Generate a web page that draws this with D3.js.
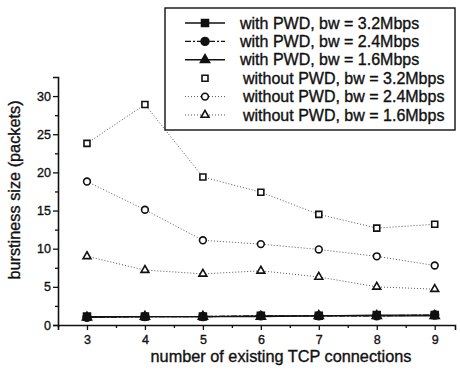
<!DOCTYPE html>
<html>
<head>
<meta charset="utf-8">
<script src="https://cdn.jsdelivr.net/npm/d3@7"></script>
<style>
  body { margin: 0; background: #fff; }
  text { font-family: Arial, "Liberation Sans", Helvetica, sans-serif; fill: #111; stroke: #111; stroke-width: 0.35; }
</style>
</head>
<body>
<div id="chart"></div>
<script>
const connections = [3, 4, 5, 6, 7, 8, 9];
const withPwd32 = [1.1, 1.1, 1.1, 1.2, 1.2, 1.3, 1.3];
const withPwd24 = [1.0, 1.1, 1.1, 1.2, 1.2, 1.2, 1.3];
const withPwd16 = [1.0, 1.1, 1.1, 1.1, 1.2, 1.2, 1.2];
const withoutPwd32 = [23.8, 28.9, 19.4, 17.4, 14.5, 12.7, 13.2];
const withoutPwd24 = [18.8, 15.1, 11.1, 10.6, 9.9, 9.0, 7.8];
const withoutPwd16 = [9.0, 7.2, 6.7, 7.1, 6.3, 5.0, 4.7];
const yTicks = [0, 5, 10, 15, 20, 25, 30];

const series = [
  { name: 'with PWD, bw = 3.2Mbps', values: withPwd32, symbol: d3.symbolSquare, fill: true, dash: null, legendLine: true },
  { name: 'with PWD, bw = 2.4Mbps', values: withPwd24, symbol: d3.symbolCircle, fill: true, dash: '6,2,2,2', legendLine: true },
  { name: 'with PWD, bw = 1.6Mbps', values: withPwd16, symbol: d3.symbolTriangle, fill: true, dash: null, legendLine: true },
  { name: 'without PWD, bw = 3.2Mbps', values: withoutPwd32, symbol: d3.symbolSquare, fill: false, dash: '1,2', legendLine: false },
  { name: 'without PWD, bw = 2.4Mbps', values: withoutPwd24, symbol: d3.symbolCircle, fill: false, dash: '1,2', legendLine: true },
  { name: 'without PWD, bw = 1.6Mbps', values: withoutPwd16, symbol: d3.symbolTriangle, fill: false, dash: '1,2', legendLine: true }
];

const width = 460;
const height = 370;

const svg = d3.select('#chart').append('svg')
  .attr('width', width)
  .attr('height', height);

const x = d3.scaleLinear().domain([2.5, 9.35]).range([58, 455]);
const y = d3.scaleLinear().domain([0, 32.5]).range([325, 77]);

// symbol sizes (area), triangles a bit smaller so they look like the others
const markSize = (s) => {
  const base = s.fill ? 48 : 36;
  return s.symbol === d3.symbolTriangle ? base * 0.75 : base;
};

// axes
const xAxis = d3.axisBottom(x).tickValues(connections).tickSize(5).tickFormat(d3.format('d'));
const xMinor = d3.axisBottom(x).tickValues(d3.range(2.5, 9.5, 1)).tickSize(3).tickFormat('');
const yAxis = d3.axisLeft(y).tickValues(yTicks).tickSize(5).tickPadding(2);
const yMinor = d3.axisLeft(y).tickValues(d3.range(2.5, 32.5, 5)).tickSize(3).tickFormat('');

const gx = svg.append('g').attr('transform', 'translate(0,325)').call(xAxis);
svg.append('g').attr('transform', 'translate(0,325)').call(xMinor).select('.domain').remove();
const gy = svg.append('g').attr('transform', 'translate(58,0)').call(yAxis);
svg.append('g').attr('transform', 'translate(58,0)').call(yMinor).select('.domain').remove();

svg.selectAll('.domain').attr('stroke', '#111').attr('stroke-width', 1.6);
svg.selectAll('.tick line').attr('stroke', '#111').attr('stroke-width', 1.3);
svg.selectAll('.tick text').attr('font-size', 12.5).attr('fill', '#111');
gx.selectAll('.tick text').attr('dy', '0.9em');

svg.append('text')
  .attr('x', 281).attr('y', 362)
  .attr('text-anchor', 'middle')
  .attr('font-size', 16.3)
  .text('number of existing TCP connections');

svg.append('text')
  .attr('transform', 'translate(20,190) rotate(-90)')
  .attr('text-anchor', 'middle')
  .attr('font-size', 16.3)
  .text('burstiness size (packets)');

// lines and markers
const line = d3.line().x((d, i) => x(connections[i])).y(d => y(d));

series.forEach((s) => {
  const g = svg.append('g');
  g.append('path')
    .attr('d', line(s.values))
    .attr('fill', 'none')
    .attr('stroke', s.fill ? '#111' : '#555')
    .attr('stroke-width', s.fill ? 1.4 : 1)
    .attr('stroke-dasharray', s.dash);
  g.selectAll('path.mark')
    .data(s.values)
    .enter().append('path')
    .attr('class', 'mark')
    .attr('transform', (d, i) => `translate(${x(connections[i])},${y(d)})`)
    .attr('d', d3.symbol().type(s.symbol).size(markSize(s)))
    .attr('fill', s.fill ? '#111' : '#fff')
    .attr('stroke', '#111')
    .attr('stroke-width', 1.6);
});

// legend
const legend = svg.append('g');
legend.append('rect')
  .attr('x', 165).attr('y', 8)
  .attr('width', 290).attr('height', 122)
  .attr('fill', '#fff')
  .attr('stroke', '#111')
  .attr('stroke-width', 1.4);

series.forEach((s, k) => {
  const ly = 23 + k * 18.4;
  if (s.legendLine) {
    legend.append('line')
      .attr('x1', 185).attr('x2', 225)
      .attr('y1', ly).attr('y2', ly)
      .attr('stroke', s.fill ? '#111' : '#555')
      .attr('stroke-width', s.fill ? 1.4 : 1)
      .attr('stroke-dasharray', s.dash);
  }
  legend.append('path')
    .attr('transform', `translate(205,${ly})`)
    .attr('d', d3.symbol().type(s.symbol).size(markSize(s)))
    .attr('fill', s.fill ? '#111' : '#fff')
    .attr('stroke', '#111')
    .attr('stroke-width', 1.6);
  legend.append('text')
    .attr('x', s.fill ? 240 : 243).attr('y', ly)
    .attr('dy', '0.35em')
    .attr('font-size', 16)
    .text(s.name);
});
</script>
</body>
</html>
